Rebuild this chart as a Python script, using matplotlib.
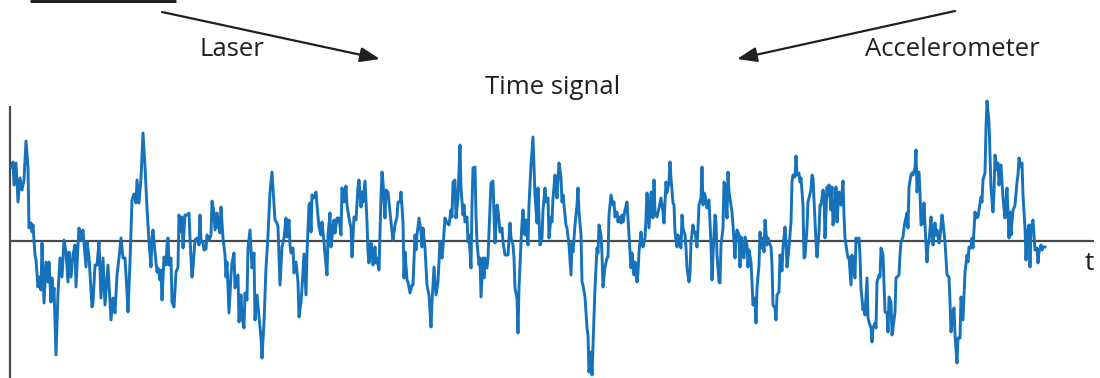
import matplotlib
matplotlib.use("Agg")
import matplotlib.pyplot as plt

# Sampled time signal (time in ms, amplitude in arbitrary units)
t = [11, 13, 14, 16, 18, 20, 22, 24, 26, 28, 29, 31, 32, 33, 35, 36, 38, 39, 41, 42,
     44, 46, 48, 49, 51, 52, 53, 54, 56, 58, 60, 62, 64, 66, 68, 69, 71, 73, 75, 76,
     78, 79, 81, 83, 84, 86, 87, 89, 92, 93, 95, 97, 99, 101, 103, 105, 108, 111, 113, 115,
     117, 119, 121, 123, 125, 127, 128, 130,
     132, 134, 136, 137, 139, 141, 143, 145, 147, 149, 151, 152, 153, 155, 157, 158, 160, 161, 162, 164,
     166, 167, 168, 169, 171, 172, 174, 176, 178, 179, 181, 182, 183, 185, 187, 189, 190, 192, 193, 195,
     197, 199, 200, 201, 203, 204, 206, 207, 209, 211, 212, 214, 215, 217, 218, 219, 220, 221, 223, 225,
     226, 227, 229, 231, 232, 234, 235, 237, 238, 239, 241, 242, 244, 245, 247, 248, 250, 252, 254, 255,
     257, 259, 261, 262,
     264, 266, 268, 270, 272, 273, 275, 277, 278, 280, 282, 284, 286, 287, 289, 290, 291, 293, 294, 296,
     298, 299, 301, 302, 304, 306, 307, 309, 310, 311, 312, 314, 316, 317, 319, 321, 322, 324, 325, 327,
     328, 330, 331, 333, 334, 335, 337, 339, 341, 342, 344, 346, 347, 349, 351, 352, 354, 356, 358, 359,
     361, 362, 363, 365, 367, 368, 369, 371, 372, 373, 375, 376, 377, 379, 381, 382, 383, 385, 386, 388,
     392, 393, 395, 397, 398, 400, 401, 403, 404, 405, 407, 408, 410, 412, 413, 415, 416, 417, 419, 421,
     422, 423, 425, 426, 427, 429, 431, 432, 434, 436, 438, 440, 442, 443, 445, 447, 449, 451, 452, 453,
     455, 456, 458, 460, 461, 463, 464, 465, 467, 468, 469, 471, 472, 473, 475, 476, 477, 479, 480, 481,
     483, 484, 485, 487, 488, 489, 491, 493, 494, 495, 497, 498, 500, 502, 503, 505, 507, 508, 510, 511,
     513, 514, 515, 517, 518, 519, 521,
     522, 523, 525, 526, 528, 529, 531, 533, 535, 537, 538, 540, 542, 543, 545, 546, 548, 549, 551, 552,
     553, 555, 556, 557, 559, 561, 562, 563, 565, 566, 567, 569, 571, 572, 573, 575, 577, 578, 579, 581,
     582, 583, 585, 587, 588, 589, 591, 592, 594, 595, 597, 598, 599, 601, 602, 603, 605, 607, 608, 609,
     611, 613, 614, 615, 617, 618, 619, 621, 622, 623, 625, 627, 628, 629, 631, 632, 634, 635, 637, 638,
     639, 641, 642, 643, 645, 646, 647, 649,
     651, 653, 654, 655, 657, 659, 661, 663, 664, 666, 667, 669, 670, 671, 673, 674, 675, 677, 678, 679,
     681, 682, 683, 685, 686, 687, 689, 690, 691, 693, 694, 695, 697, 698, 699, 701, 702, 703, 704, 705,
     707, 708, 709, 711, 712, 713, 715, 716, 717, 719, 720, 721, 723, 724, 725, 727, 728, 729, 731, 732,
     733, 735, 736, 737, 739, 740, 741, 743, 744, 745, 747, 748, 749, 751, 752, 753, 755, 756, 757, 759,
     760, 761, 763, 764, 765, 767, 768, 769, 771, 772, 773, 775, 776, 777, 779, 780, 782, 783,
     785, 786, 787, 789, 791, 792, 793, 795, 796, 797, 799, 800, 801, 803, 804, 805, 807, 808, 809, 811,
     812, 813, 815, 816, 817, 819, 820, 821, 823, 824, 825, 827, 828, 829, 831, 832, 833, 835, 836, 837,
     839, 840, 841, 843, 844, 845, 847, 848, 849, 851, 852, 853, 855, 856, 857, 859, 860, 861, 863, 864,
     865, 867, 868, 869, 871, 872, 873, 875, 876, 877, 879, 880, 881, 883, 884, 885, 887, 888, 889, 891,
     892, 893, 895, 896, 897, 899, 900, 901, 903, 904, 905, 907, 908, 909, 911,
     912, 913, 915, 916, 917, 919, 920, 921, 923, 924, 925, 927, 928, 929, 931, 932, 933, 935, 936, 937,
     939, 940, 942, 943, 945, 947, 949, 950, 951, 953, 954, 955, 957, 958, 960, 961, 963, 964, 965, 967,
     968, 969, 971, 972, 973, 975, 976, 978, 979, 981, 982, 983, 985, 986, 987, 989, 990, 991, 993, 994,
     995, 997, 998, 999, 1001, 1002, 1003, 1005, 1006, 1007, 1009, 1010, 1011, 1013, 1014, 1015, 1017, 1018, 1019, 1021,
     1022, 1023, 1025, 1026, 1027, 1029, 1030, 1031, 1033, 1034, 1035, 1037, 1038, 1039, 1041, 1042, 1043, 1045]

signal = [74, 79, 56, 78, 39, 63, 51, 61, 100, 74, 13, 18, 9, 16, -14, -19, -46, -36, -49, -2,
          -62, -21, -41, -21, -61, -37, -59, -47, -114, -52, -17, -36, 1, -11, -41, -11, -36, -14, -4, -46,
          -4, 13, 1, 11, -2, -26, -1, -16, -66, -62, -24, -24, -1, -57, -17, -64, -24, -79, -57, -72,
          -34, -17, 3, -17, -17, -51, -71, -21,
          41, 47, 38, 61, 38, 63, 108, 74, 33, -1, -26, 3, 11, -11, -31, -27, -39, -29, -59, -16,
          -24, -4, 3, -24, -17, -61, -66, -31, -26, 26, 9, 24, -7, 26, 26, 28, 3, -36, -27, 1,
          3, -4, 26, -1, -1, -9, -8, 6, 1, 6, 40, 28, 11, 28, 13, 23, 8, 34, 3, -14,
          -36, -21, -72, -34, -22, -12, -47, -36, -34, -81, -54, -76, -87, -52, -59, -7, 11, -27, -12, -79,
          -54, -76, -97, -117,
          -81, -27, 6, 49, 69, 53, 21, 18, 14, -44, -6, 3, 23, 4, 21, -4, -12, -7, -32, -21,
          -41, -76, -61, -47, -13, -54, -12, 36, 38, 9, 46, 43, 49, 36, 14, 6, 19, -1, -14, -34,
          6, 28, -6, 13, 21, 8, 23, 23, 6, 53, 39, 55, 36, 23, 13, -16, 24, 21, 54, 61,
          34, 49, 39, 60, 19, -11, -22, -2, -11, -24, -6, -22, -17, -29, 44, 69, 59, 23, 51, 49,
          9, 1, 16, 24, 39, 39, 49, 19, -37, -11, -39, -41, -52, -44, -44, 6, -9, 6, 23, 9,
          -6, 13, -7, -26, -44, -54, -86, -61, -26, -54, -41, -1, -17, -6, 23, 18, 16, 31, 24, 59,
          61, 23, 43, 96, 53, 26, 36, 19, 24, -1, 6, -27, 36, 73, 74, 26, -1, -24, -17, -56,
          -17, -37, -17, -27, -17, 9, 58, 60, 26, -2, 36, 31, 9, 13, -1, -14, -14, -14, 18, 3,
          -4, -17, -47, -57, -92, -47, -1,
          18, 31, 6, 21, -4, 36, 76, 104, 46, 18, 53, -4, 3, 31, 53, 39, 43, 3, 24, 19,
          43, 66, 56, 43, 78, 64, 39, 46, 26, 16, 13, -4, -34, -2, -11, 16, 36, 53, 29, 6,
          -41, -44, -56, -87, -94, -131, -111, -134, -74, -47, -7, -12, 16, 6, -14, -46, -26, -17, -16, 26,
          46, 36, 39, 24, 29, 19, 24, 18, 26, 19, 31, 39, 23, 6, -27, -12, -34, -21, -41, -31,
          -11, 9, -1, -6, 3, 23, 48, 13,
          49, 23, 61, 29, 24, 33, 43, 29, 18, 59, 48, 59, 79, 63, 38, 36, 9, -6, 6, -1,
          -7, 26, 13, 6, -7, -27, -41, -32, -1, 16, 9, 9, -6, 13, 36, 43, 74, 36, 48, 46,
          33, 39, 41, -4, -39, -14, 26, 19, -14, -41, -42, -4, 13, 59, 56, 23, 69, 49, 36, 29,
          16, -17, 3, 11, 6, -26, 4, -14, -17, 4, -4, -26, -9, -21, -41, -64, -57, -82, -47, -24,
          9, -7, 3, -11, 21, -4, 3, -1, -6, -24, -64, -67, -79, -54, -51, -14, -30, -7,
          14, -1, -26, -7, 19, 59, 66, 64, 85, 66, 68, 59, 63, 36, -17, -16, 13, 39, 43, 51,
          66, 63, 19, -1, -16, 9, 36, 36, 51, 46, 3, 54, 46, 56, 31, 54, 16, 36, 54, 19,
          49, 46, 36, 60, 26, 3, -11, -17, -16, -44, -14, -27, -37, 3, -1, 3, -14, -47, -69, -64,
          -74, -37, -77, -81, -87, -101, -87, -82, -87, -41, -34, -36, -7, -14, -41, -71, -72, -91, -56, -61,
          -94, -87, -71, -37, -36, -34, -14, -1, 4, 13, 19, 28, 13, 54, 66,
          68, 66, 73, 91, 49, 69, 49, 16, 18, 38, 16, -21, -4, -1, 24, 9, -4, 18, 6, 11,
          -2, 4, 26, 19, -1, -34, -36, -61, -91, -71, -67, -94, -122, -97, -97, -56, -79, -54, -31, -14,
          -21, -6, -7, 3, -7, 29, 23, 24, 31, 44, 39, 61, 68, 113, 140, 119, 86, 53, 29, 49,
          86, 71, 78, 56, 76, 59, 43, 23, 41, 53, 3, 29, 6, 31, 33, 36, 59, 66, 83, 74,
          78, 46, 13, -19, 6, 16, -26, 13, 21, 6, -9, -7, -22, -11, -4, -9, -6, -6]

# Axis extents
t_axis = [10, 1094]
amp_axis = [-137, 135]

BLUE = "#1572bb"
AXIS = "#4a4a4a"
INK = "#231f20"
FONT = ["Open Sans", "DejaVu Sans"]

fig = plt.figure(figsize=(11.0, 3.78), dpi=100)
ax = fig.add_axes([0, 0, 1, 1])
ax.set_xlim(0, 1100)
ax.set_ylim(-137, 241)
ax.axis("off")

# Coordinate axes
ax.plot(t_axis, [0, 0], color=AXIS, lw=1.6, solid_capstyle="butt", zorder=1)
ax.plot([t_axis[0], t_axis[0]], amp_axis, color=AXIS, lw=1.6, solid_capstyle="butt", zorder=1)

# Signal trace
ax.plot(t, signal, color=BLUE, lw=2.1, solid_joinstyle="round", zorder=2)

ax.text(1089, -23, "t", fontsize=19, family=FONT, color=INK, ha="center", va="center")
ax.text(553, 153, "Time signal", fontsize=18.5, family=FONT, color=INK, ha="center", va="center")
ax.text(232, 191, "Laser", fontsize=18.5, family=FONT, color=INK, ha="center", va="center")
ax.text(952, 191, "Accelerometer", fontsize=18.5, family=FONT, color=INK, ha="center", va="center")

arrow = dict(arrowstyle="-|>,head_length=1.2,head_width=0.45", color=INK, lw=1.6,
             shrinkA=0, shrinkB=0)
ax.annotate("", xy=(380, 182), xytext=(162, 229), arrowprops=arrow)
ax.annotate("", xy=(737, 182), xytext=(955, 230), arrowprops=arrow)

# Edge of the picture strip above the chart
ax.plot([30, 176], [240.5, 240.5], color="#111111", lw=2.0, solid_capstyle="butt")

fig.savefig("out.png", dpi=100)
